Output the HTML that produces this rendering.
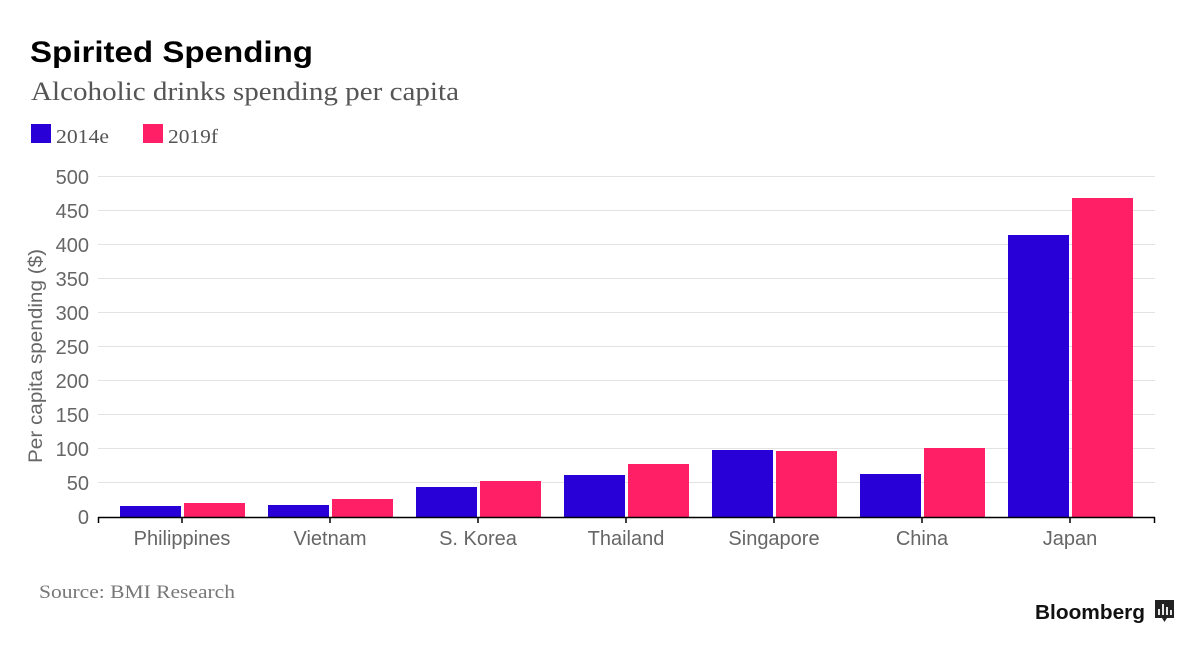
<!DOCTYPE html>
<html><head><style>
body{margin:0;background:#fff;width:1200px;height:649px;overflow:hidden}
</style></head><body>
<svg width="1200" height="649" xmlns="http://www.w3.org/2000/svg">
<text x="30" y="62" font-family="Liberation Sans, sans-serif" font-weight="bold" font-size="30" fill="#000" textLength="283" lengthAdjust="spacingAndGlyphs">Spirited Spending</text>
<text x="31" y="100" font-family="Liberation Serif, serif" font-size="26" fill="#555" textLength="428" lengthAdjust="spacingAndGlyphs">Alcoholic drinks spending per capita</text>
<rect x="31" y="124" width="20" height="19" fill="#2800d7"/>
<text x="56" y="143" font-family="Liberation Serif, serif" font-size="20" fill="#555" textLength="53" lengthAdjust="spacingAndGlyphs">2014e</text>
<rect x="143" y="124" width="20" height="19" fill="#ff1f66"/>
<text x="168" y="143" font-family="Liberation Serif, serif" font-size="20" fill="#555" textLength="50" lengthAdjust="spacingAndGlyphs">2019f</text>
<g stroke="#e3e3e3" stroke-width="1">
<line x1="98" x2="1155" y1="176.5" y2="176.5"/><line x1="98" x2="1155" y1="210.5" y2="210.5"/>
<line x1="98" x2="1155" y1="244.5" y2="244.5"/><line x1="98" x2="1155" y1="278.5" y2="278.5"/>
<line x1="98" x2="1155" y1="312.5" y2="312.5"/><line x1="98" x2="1155" y1="346.5" y2="346.5"/>
<line x1="98" x2="1155" y1="380.5" y2="380.5"/><line x1="98" x2="1155" y1="414.5" y2="414.5"/>
<line x1="98" x2="1155" y1="448.5" y2="448.5"/><line x1="98" x2="1155" y1="482.5" y2="482.5"/>
</g>
<g font-family="Liberation Sans, sans-serif" font-size="20" fill="#666" text-anchor="end">
<text x="89" y="184">500</text><text x="89" y="218">450</text><text x="89" y="252">400</text>
<text x="89" y="286">350</text><text x="89" y="320">300</text><text x="89" y="354">250</text>
<text x="89" y="388">200</text><text x="89" y="422">150</text><text x="89" y="456">100</text>
<text x="89" y="490">50</text><text x="89" y="524">0</text>
</g>
<text transform="translate(42,356) rotate(-90)" text-anchor="middle" font-family="Liberation Sans, sans-serif" font-size="19" fill="#666" textLength="214" lengthAdjust="spacingAndGlyphs">Per capita spending ($)</text>
<g fill="#2800d7">
<rect x="120" y="506" width="61" height="11"/><rect x="268" y="505" width="61" height="12"/>
<rect x="416" y="487" width="61" height="30"/><rect x="564" y="475" width="61" height="42"/>
<rect x="712" y="450" width="61" height="67"/><rect x="860" y="474" width="61" height="43"/>
<rect x="1008" y="235" width="61" height="282"/>
</g>
<g fill="#ff1f66">
<rect x="184" y="503" width="61" height="14"/><rect x="332" y="499" width="61" height="18"/>
<rect x="480" y="481" width="61" height="36"/><rect x="628" y="464" width="61" height="53"/>
<rect x="776" y="451" width="61" height="66"/><rect x="924" y="448" width="61" height="69"/>
<rect x="1072" y="198" width="61" height="319"/>
</g>
<g stroke="#000" stroke-width="1.5">
<line x1="98" x2="1155" y1="517.5" y2="517.5"/>
<line x1="98.5" x2="98.5" y1="517" y2="523"/>
<line x1="182" x2="182" y1="517" y2="523"/><line x1="330" x2="330" y1="517" y2="523"/>
<line x1="478" x2="478" y1="517" y2="523"/><line x1="626" x2="626" y1="517" y2="523"/>
<line x1="774" x2="774" y1="517" y2="523"/><line x1="922" x2="922" y1="517" y2="523"/>
<line x1="1070" x2="1070" y1="517" y2="523"/><line x1="1154.5" x2="1154.5" y1="517" y2="523"/>
</g>
<g font-family="Liberation Sans, sans-serif" font-size="20" fill="#666" text-anchor="middle">
<text x="182" y="545">Philippines</text><text x="330" y="545">Vietnam</text>
<text x="478" y="545">S. Korea</text><text x="626" y="545">Thailand</text>
<text x="774" y="545">Singapore</text><text x="922" y="545">China</text>
<text x="1070" y="545">Japan</text>
</g>
<text x="39" y="598" font-family="Liberation Serif, serif" font-size="19" fill="#777" textLength="196" lengthAdjust="spacingAndGlyphs">Source: BMI Research</text>
<text x="1035" y="619" font-family="Liberation Sans, sans-serif" font-weight="bold" font-size="20" fill="#111" textLength="110" lengthAdjust="spacingAndGlyphs">Bloomberg</text>
<path d="M1155 600 h19 v18 h-7 l-2.5 4 l-2.5 -4 h-7 z" fill="#222"/>
<g stroke="#fff" stroke-width="1.8"><line x1="1159" x2="1159" y1="609" y2="615"/><line x1="1163" x2="1163" y1="604" y2="615"/><line x1="1167" x2="1167" y1="607" y2="615"/><line x1="1171" x2="1171" y1="610" y2="615"/></g>
</svg>
</body></html>
